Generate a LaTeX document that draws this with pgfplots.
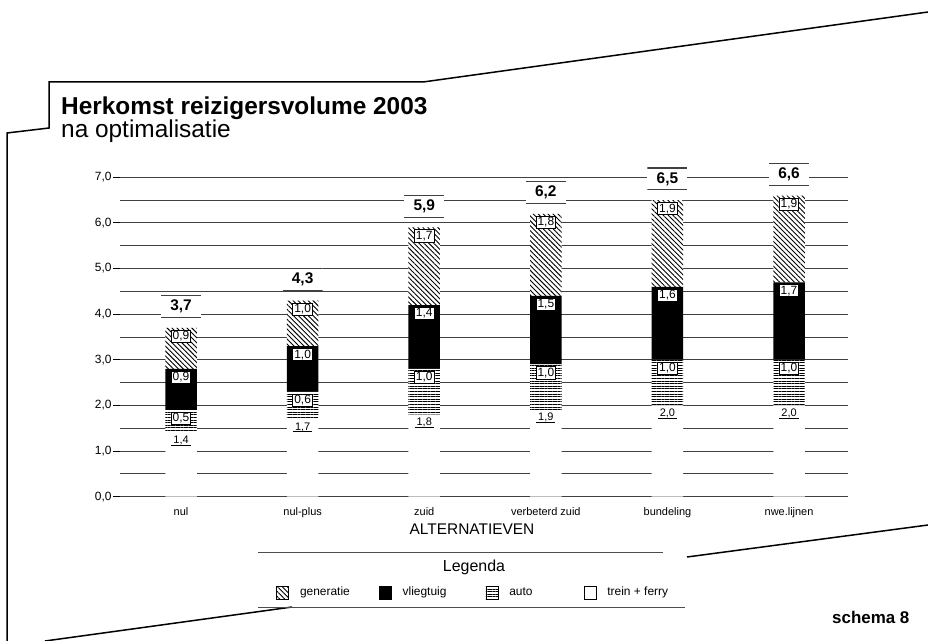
\documentclass[border=0pt]{standalone}
\usepackage{pgfplots}
\pgfplotsset{compat=1.18}
\usepackage{pgfplotstable}
\usepackage{fontspec}
\setmainfont{Liberation Sans}
\usetikzlibrary{patterns.meta}

% segment values, their labels, and the tops of the stacked segments
\pgfplotstableread{
x trein tl auto al vlieg vl gen gl ttop atop vtop gtop tot
0 1.4 1,4 0.5 0,5 0.9 0,9 0.9 0,9 1.4 1.9 2.8 3.7 3,7
1 1.7 1,7 0.6 0,6 1.0 1,0 1.0 1,0 1.7 2.3 3.3 4.3 4,3
2 1.8 1,8 1.0 1,0 1.4 1,4 1.7 1,7 1.8 2.8 4.2 5.9 5,9
3 1.9 1,9 1.0 1,0 1.5 1,5 1.8 1,8 1.9 2.9 4.4 6.2 6,2
4 2.0 2,0 1.0 1,0 1.6 1,6 1.9 1,9 2.0 3.0 4.6 6.5 6,5
5 2.0 2,0 1.0 1,0 1.7 1,7 1.9 1,9 2.0 3.0 4.7 6.6 6,6
}\data

\tikzset{
  seglab/.style={font=\fontsize{12}{12}\selectfont, fill=white, draw=black, line width=0.8bp,
    inner xsep=1.5bp, inner ysep=1.2bp, anchor=north, yshift=-2bp, text=black},
  treinlab/.style={font=\fontsize{11}{11}\selectfont, fill=none, draw=none, inner sep=0bp,
    anchor=north, yshift=-3bp, text=black},
  totlab/.style={font=\bfseries\fontsize{15.5}{15.5}\selectfont, fill=white, draw=none, anchor=south,
    yshift=10bp, minimum width=40bp, minimum height=22bp, inner sep=0bp, text=black,
    path picture={\draw[black!75,line width=1.5bp]
      (path picture bounding box.north west) -- (path picture bounding box.north east)
      (path picture bounding box.south west) -- (path picture bounding box.south east);}},
}
\pgfplotsset{
  geom/.style={at={(120bp,-496.7bp)}, anchor=south west,
    scale only axis, width=728bp, height=319.4bp,
    xmin=-0.502, xmax=5.485, ymin=0, ymax=7, clip=false},
}

\begin{document}
\begin{tikzpicture}[x=1bp,y=1bp]
\useasboundingbox (0,0) rectangle (928,-641);
% page frame
\draw[line width=1.5bp] (7,-641) -- (7,-133) -- (49,-128) -- (49,-82) -- (423,-82) -- (928,-12);
\draw[line width=1.5bp] (45,-641) -- (292,-607);
\draw[line width=1.5bp] (687,-557) -- (928,-525);
\draw[black!70,line width=1bp] (258,-552) -- (663,-552);
\draw[black!70,line width=1bp] (258,-607) -- (685,-607);
% titles
\node[anchor=base west, inner sep=0, font=\bfseries\fontsize{24.5}{24.5}\selectfont] at (61,-115) {Herkomst reizigersvolume 2003};
\node[anchor=base west, inner sep=0, font=\fontsize{24.5}{24.5}\selectfont] at (61,-138) {na optimalisatie};
\node[font=\fontsize{16}{16}\selectfont] at (474,-567) {Legenda};
\node[anchor=base west, inner sep=0, font=\bfseries\fontsize{17}{17}\selectfont] at (832,-623) {schema 8};

\begin{axis}[
  geom,
  ybar stacked, bar width=31.5bp,
  axis line style={draw=none},
  xtick={0,1,2,3,4,5},
  xticklabels={nul,nul-plus,zuid,verbeterd zuid,bundeling,nwe.lijnen},
  x tick style={draw=none},
  x tick label style={font=\fontsize{11}{11}\selectfont},
  ytick={0,1,2,3,4,5,6,7},
  minor ytick={0.5,1.5,2.5,3.5,4.5,5.5,6.5},
  ytick pos=left,
  ymajorgrids, yminorgrids,
  major grid style={black!75, line width=0.9bp},
  minor grid style={black!75, line width=0.9bp},
  y tick style={black, line width=0.9bp},
  tick align=outside, major tick length=7bp, minor tick length=0bp,
  yticklabel style={font=\fontsize{12}{12}\selectfont, xshift=2bp,
    /pgf/number format/.cd, fixed, fixed zerofill, precision=1, use comma, assume math mode=true},
  xlabel={ALTERNATIEVEN},
  xlabel style={font=\fontsize{15.5}{15.5}\selectfont, at={(axis description cs:0.4835,-0.103)}, anchor=center},
  legend image code/.code={\draw[#1,draw=black,line width=0.8bp] (0bp,-6.5bp) rectangle (12bp,6.5bp);},
  reverse legend,
  legend columns=4,
  legend cell align=left,
  legend style={at={(0.2143,-0.301)}, anchor=west, draw=none, fill=none, inner sep=0pt,
    font=\fontsize{12}{12}\selectfont,
    nodes={text depth=3bp},
    /tikz/every odd column/.append style={column sep=9bp},
    /tikz/every even column/.append style={column sep=27bp}},
]
\addplot[fill=white, draw=none] table[x=x, y=trein] {\data};
\addlegendentry{trein + ferry}
\addplot[fill=white, draw=none, postaction={pattern={Lines[angle=0,distance=2.6bp,line width=0.9bp]}}]
  table[x=x, y=auto] {\data};
\addlegendentry{auto\rule{22bp}{0pt}}
\addplot[fill=black, draw=none] table[x=x, y=vlieg] {\data};
\addlegendentry{vliegtuig\rule{10bp}{0pt}}
\addplot[fill=white, draw=none, postaction={pattern={Lines[angle=-45,distance=3.5bp,line width=0.9bp]}}]
  table[x=x, y=gen] {\data};
\addlegendentry{generatie}
\end{axis}

% value labels, placed at the tops of the stacked segments
\begin{axis}[geom, hide axis]
\addplot[draw=none, mark=none, point meta=explicit symbolic,
  nodes near coords={\begin{tabular}{@{\hspace{2bp}}c@{\hspace{2bp}}}\pgfplotspointmeta\\[-2bp]\hline\end{tabular}},
  every node near coord/.append style={treinlab}]
  table[x=x, y=ttop, meta=tl] {\data};
\addplot[draw=none, mark=none, point meta=explicit symbolic, nodes near coords,
  every node near coord/.append style={seglab}]
  table[x=x, y=atop, meta=al] {\data};
\addplot[draw=none, mark=none, point meta=explicit symbolic, nodes near coords,
  every node near coord/.append style={seglab}]
  table[x=x, y=vtop, meta=vl] {\data};
\addplot[draw=none, mark=none, point meta=explicit symbolic, nodes near coords,
  every node near coord/.append style={seglab}]
  table[x=x, y=gtop, meta=gl] {\data};
\addplot[draw=none, mark=none, point meta=explicit symbolic, nodes near coords,
  every node near coord/.append style={totlab}]
  table[x=x, y=gtop, meta=tot] {\data};
\end{axis}
\end{tikzpicture}
\end{document}
